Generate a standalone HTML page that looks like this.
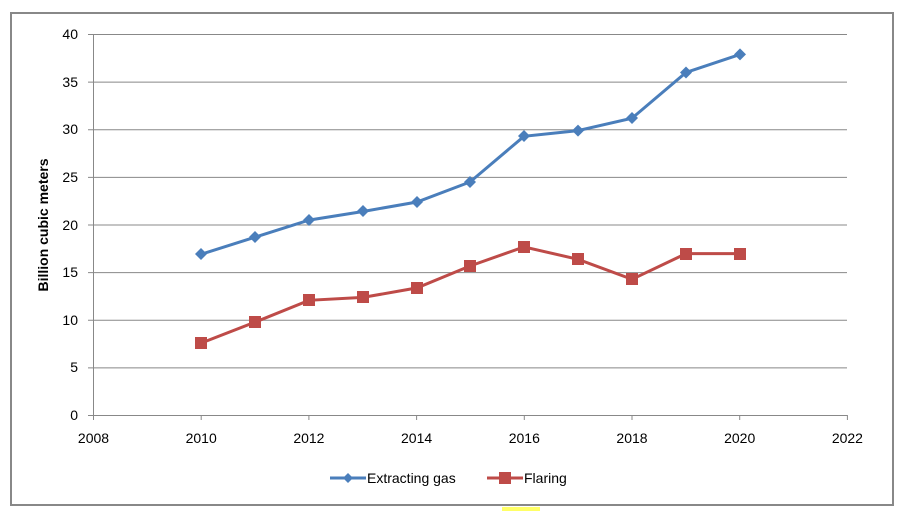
<!DOCTYPE html>
<html><head><meta charset="utf-8"><style>
html,body{margin:0;padding:0;background:#fff;}
svg{display:block;font-family:"Liberation Sans",Arial,sans-serif;}
</style></head><body>
<svg width="902" height="513" viewBox="0 0 902 513" xmlns="http://www.w3.org/2000/svg">
<rect x="11" y="13" width="882" height="492" fill="#fff" stroke="#888" stroke-width="2"/>
<rect x="502" y="507" width="38" height="4" fill="#ffff66"/>
<g stroke="#888" stroke-width="1">
<line x1="88" y1="34.5" x2="847" y2="34.5"/>
<line x1="88" y1="82.1" x2="847" y2="82.1"/>
<line x1="88" y1="129.8" x2="847" y2="129.8"/>
<line x1="88" y1="177.4" x2="847" y2="177.4"/>
<line x1="88" y1="225" x2="847" y2="225"/>
<line x1="88" y1="272.6" x2="847" y2="272.6"/>
<line x1="88" y1="320.3" x2="847" y2="320.3"/>
<line x1="88" y1="367.9" x2="847" y2="367.9"/>
<line x1="88" y1="415.5" x2="847" y2="415.5"/>
<line x1="93.5" y1="34" x2="93.5" y2="415"/>
<line x1="93.5" y1="415" x2="93.5" y2="420"/>
<line x1="201.2" y1="415" x2="201.2" y2="420"/>
<line x1="308.9" y1="415" x2="308.9" y2="420"/>
<line x1="416.6" y1="415" x2="416.6" y2="420"/>
<line x1="524.3" y1="415" x2="524.3" y2="420"/>
<line x1="632" y1="415" x2="632" y2="420"/>
<line x1="739.7" y1="415" x2="739.7" y2="420"/>
<line x1="847.4" y1="415" x2="847.4" y2="420"/>
</g>
<g font-size="14" fill="#000" text-anchor="end">
<text x="78" y="39">40</text><text x="78" y="87">35</text><text x="78" y="134">30</text>
<text x="78" y="182">25</text><text x="78" y="230">20</text><text x="78" y="277">15</text>
<text x="78" y="325">10</text><text x="78" y="372">5</text><text x="78" y="420">0</text>
</g>
<g font-size="14" fill="#000" text-anchor="middle">
<text x="93.5" y="443">2008</text><text x="201.2" y="443">2010</text><text x="308.9" y="443">2012</text>
<text x="416.6" y="443">2014</text><text x="524.3" y="443">2016</text><text x="632" y="443">2018</text>
<text x="739.7" y="443">2020</text><text x="847.4" y="443">2022</text>
</g>
<text transform="translate(48,225) rotate(-90)" font-size="14" font-weight="bold" text-anchor="middle">Billion cubic meters</text>
<polyline fill="none" stroke="#4a7ebb" stroke-width="3" points="201,254.3 255,237.2 309,220.1 363,211.5 417,202 470,182 524,136.3 578,130.6 632,118.2 686,72.5 740,54.4"/>
<g fill="#4a7ebb">
<path d="M201,248 l6,6 l-6,6 l-6,-6z"/><path d="M255,231 l6,6 l-6,6 l-6,-6z"/><path d="M309,214 l6,6 l-6,6 l-6,-6z"/>
<path d="M363,205 l6,6 l-6,6 l-6,-6z"/><path d="M417,196 l6,6 l-6,6 l-6,-6z"/><path d="M470,176 l6,6 l-6,6 l-6,-6z"/>
<path d="M524,130 l6,6 l-6,6 l-6,-6z"/><path d="M578,124.6 l6,6 l-6,6 l-6,-6z"/><path d="M632,112 l6,6 l-6,6 l-6,-6z"/>
<path d="M686,66.5 l6,6 l-6,6 l-6,-6z"/><path d="M740,48.4 l6,6 l-6,6 l-6,-6z"/>
</g>
<polyline fill="none" stroke="#be4b48" stroke-width="3" points="201,343.1 255,322.2 309,300.3 363,297.4 417,287.9 470,266 524,246.9 578,259.3 632,279.3 686,253.6 740,253.6"/>
<g fill="#be4b48">
<rect x="195" y="337" width="12" height="12"/><rect x="249" y="316" width="12" height="12"/><rect x="303" y="294" width="12" height="12"/>
<rect x="357" y="291" width="12" height="12"/><rect x="411" y="282" width="12" height="12"/><rect x="464" y="260" width="12" height="12"/>
<rect x="518" y="241" width="12" height="12"/><rect x="572" y="253" width="12" height="12"/><rect x="626" y="273" width="12" height="12"/>
<rect x="680" y="248" width="12" height="12"/><rect x="734" y="248" width="12" height="12"/>
</g>
<line x1="330" y1="478" x2="366" y2="478" stroke="#4a7ebb" stroke-width="3"/>
<path d="M348,473 l5,5 l-5,5 l-5,-5z" fill="#4a7ebb"/>
<text x="367" y="483" font-size="14">Extracting gas</text>
<line x1="487" y1="478" x2="523" y2="478" stroke="#be4b48" stroke-width="3"/>
<rect x="499" y="472" width="12" height="12" fill="#be4b48"/>
<text x="524" y="483" font-size="14">Flaring</text>
</svg>
</body></html>
